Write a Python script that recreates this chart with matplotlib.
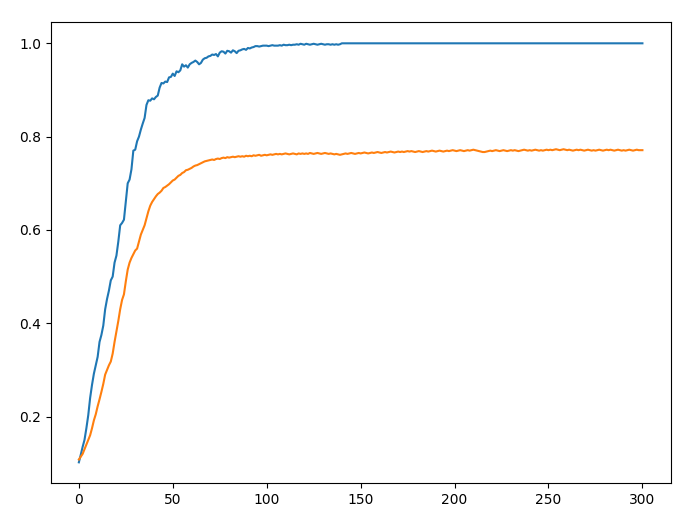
import matplotlib
matplotlib.use("Agg")
import matplotlib.pyplot as plt

epochs = list(range(301))

blue_values = [
    0.102, 0.118, 0.135, 0.150, 0.175, 0.203, 0.240, 0.268, 0.292, 0.310,
    0.328, 0.360, 0.375, 0.395, 0.430, 0.452, 0.470, 0.492, 0.500, 0.530,
    0.545, 0.575, 0.610, 0.615, 0.622, 0.660, 0.700, 0.708, 0.730, 0.770,
    0.772, 0.790, 0.800, 0.815, 0.828, 0.840, 0.868, 0.878, 0.877, 0.882,
    0.880, 0.885, 0.888, 0.905, 0.915, 0.914, 0.918, 0.917, 0.927, 0.928,
    0.935, 0.930, 0.940, 0.938, 0.942, 0.955, 0.950, 0.953, 0.948, 0.955,
    0.958, 0.960, 0.963, 0.960, 0.955, 0.958, 0.965, 0.968, 0.969, 0.972,
    0.973, 0.976, 0.975, 0.977, 0.972, 0.980, 0.983, 0.982, 0.978, 0.984,
    0.983, 0.980, 0.985, 0.983, 0.979, 0.984, 0.985, 0.987, 0.988, 0.986,
    0.990, 0.989, 0.991, 0.992, 0.994, 0.994, 0.993, 0.994, 0.995, 0.995,
    0.995, 0.994, 0.995, 0.996, 0.995, 0.995, 0.995, 0.996, 0.995, 0.997,
    0.996, 0.996, 0.997, 0.996, 0.997, 0.997, 0.998, 0.997, 0.999, 0.998,
    0.997, 0.999, 0.998, 0.997, 0.998, 0.999, 0.998, 0.997, 0.998, 0.999,
    0.998, 0.997, 0.998, 0.998, 0.997, 0.998, 0.997, 0.998, 0.997, 0.998,
    1.0,
    1.0, 1.0, 1.0, 1.0, 1.0, 1.0, 1.0, 1.0, 1.0, 1.0,
    1.0, 1.0, 1.0, 1.0, 1.0, 1.0, 1.0, 1.0, 1.0, 1.0,
    1.0, 1.0, 1.0, 1.0, 1.0, 1.0, 1.0, 1.0, 1.0, 1.0,
    1.0, 1.0, 1.0, 1.0, 1.0, 1.0, 1.0, 1.0, 1.0, 1.0,
    1.0, 1.0, 1.0, 1.0, 1.0, 1.0, 1.0, 1.0, 1.0, 1.0,
    1.0, 1.0, 1.0, 1.0, 1.0, 1.0, 1.0, 1.0, 1.0, 1.0,
    1.0, 1.0, 1.0, 1.0, 1.0, 1.0, 1.0, 1.0, 1.0, 1.0,
    1.0, 1.0, 1.0, 1.0, 1.0, 1.0, 1.0, 1.0, 1.0, 1.0,
    1.0, 1.0, 1.0, 1.0, 1.0, 1.0, 1.0, 1.0, 1.0, 1.0,
    1.0, 1.0, 1.0, 1.0, 1.0, 1.0, 1.0, 1.0, 1.0, 1.0,
    1.0, 1.0, 1.0, 1.0, 1.0, 1.0, 1.0, 1.0, 1.0, 1.0,
    1.0, 1.0, 1.0, 1.0, 1.0, 1.0, 1.0, 1.0, 1.0, 1.0,
    1.0, 1.0, 1.0, 1.0, 1.0, 1.0, 1.0, 1.0, 1.0, 1.0,
    1.0, 1.0, 1.0, 1.0, 1.0, 1.0, 1.0, 1.0, 1.0, 1.0,
    1.0, 1.0, 1.0, 1.0, 1.0, 1.0, 1.0, 1.0, 1.0, 1.0,
    1.0, 1.0, 1.0, 1.0, 1.0, 1.0, 1.0, 1.0, 1.0, 1.0,
]

orange_values = [
    0.108, 0.114, 0.120, 0.130, 0.140, 0.150, 0.160, 0.175, 0.192, 0.205,
    0.222, 0.237, 0.253, 0.270, 0.290, 0.300, 0.310, 0.318, 0.335, 0.360,
    0.382, 0.405, 0.430, 0.450, 0.462, 0.490, 0.515, 0.530, 0.540, 0.548,
    0.556, 0.560, 0.575, 0.590, 0.600, 0.610, 0.625, 0.640, 0.652, 0.660,
    0.666, 0.672, 0.677, 0.680, 0.684, 0.690, 0.692, 0.695, 0.698, 0.702,
    0.706, 0.708, 0.712, 0.716, 0.718, 0.722, 0.724, 0.728, 0.729, 0.731,
    0.733, 0.736, 0.738, 0.739, 0.741, 0.743, 0.745, 0.747, 0.748, 0.749,
    0.750,
    0.751, 0.750, 0.752, 0.753, 0.752, 0.754, 0.755, 0.754, 0.756, 0.755,
    0.756, 0.757, 0.756, 0.757, 0.758, 0.757, 0.758, 0.757, 0.759, 0.758,
    0.759, 0.758, 0.760, 0.759, 0.760, 0.761, 0.759, 0.760, 0.761, 0.760,
    0.761, 0.762, 0.761, 0.762, 0.763, 0.762, 0.763, 0.762, 0.763, 0.764,
    0.763, 0.762, 0.763, 0.764, 0.763, 0.762, 0.764, 0.763, 0.764, 0.763,
    0.764, 0.763, 0.765, 0.764, 0.763, 0.764, 0.765, 0.764, 0.763, 0.764,
    0.765, 0.764, 0.763, 0.764, 0.763, 0.762, 0.763, 0.762, 0.761, 0.762,
    0.763, 0.764, 0.763, 0.764, 0.765, 0.764, 0.763, 0.764, 0.765, 0.764,
    0.765, 0.766, 0.765, 0.764, 0.765, 0.766, 0.765, 0.766, 0.767, 0.766,
    0.765, 0.766, 0.767, 0.766, 0.767, 0.768, 0.767, 0.766, 0.767, 0.768,
    0.767, 0.768, 0.767, 0.768, 0.769, 0.768, 0.769, 0.768, 0.767, 0.768,
    0.769, 0.768, 0.767, 0.768, 0.769, 0.768, 0.769, 0.770, 0.769, 0.768,
    0.769, 0.770, 0.769, 0.768, 0.769, 0.770, 0.769, 0.770, 0.771, 0.770,
    0.769, 0.770, 0.771, 0.770, 0.769, 0.770, 0.771, 0.770, 0.771, 0.772,
    0.771, 0.770, 0.769, 0.768, 0.767, 0.767, 0.768, 0.769, 0.770, 0.769,
    0.770, 0.771, 0.770, 0.769, 0.770, 0.771, 0.770, 0.769, 0.770, 0.771,
    0.770, 0.771, 0.770, 0.769, 0.770, 0.771, 0.772, 0.771, 0.770, 0.771,
    0.770, 0.771, 0.772, 0.771, 0.770, 0.771, 0.770, 0.771, 0.772, 0.771,
    0.772, 0.771, 0.772, 0.773, 0.772, 0.771, 0.772, 0.773, 0.772, 0.771,
    0.772, 0.771, 0.770, 0.771, 0.772, 0.771, 0.772, 0.771, 0.770, 0.771,
    0.772, 0.771, 0.770, 0.771, 0.770, 0.771, 0.772, 0.771, 0.770, 0.771,
    0.772, 0.771, 0.772, 0.771, 0.770, 0.771, 0.772, 0.771, 0.770, 0.771,
    0.770, 0.771, 0.772, 0.771, 0.770, 0.771, 0.772, 0.771, 0.771, 0.771,
]

fig = plt.figure(figsize=(7, 5.2), dpi=100)
ax = fig.add_axes([0.0724, 0.0706, 0.958 - 0.0724, 0.957 - 0.0706])
ax.plot(epochs, blue_values, color="#1f77b4", linewidth=1.5)
ax.plot(epochs, orange_values, color="#ff7f0e", linewidth=1.5)
ax.set_yticks([0.2, 0.4, 0.6, 0.8, 1.0])
fig.savefig("out.png", dpi=100)
